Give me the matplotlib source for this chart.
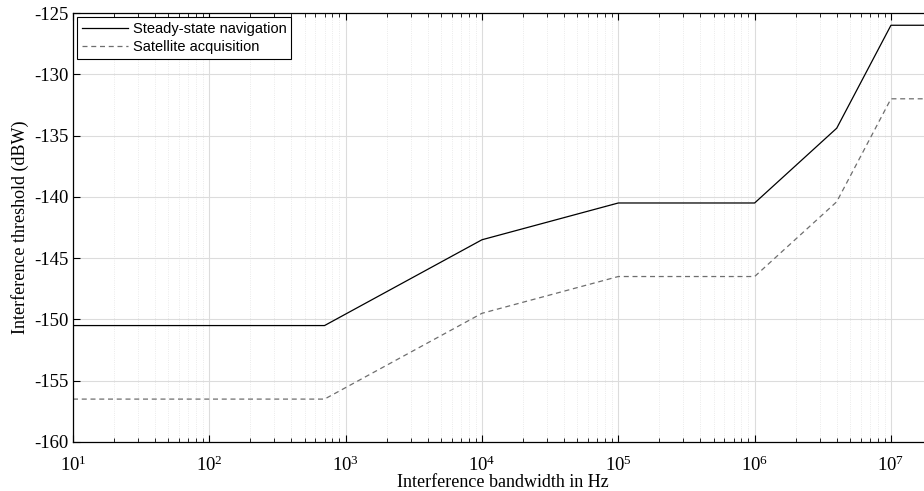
import numpy as np
import matplotlib
matplotlib.use('Agg')
import matplotlib.pyplot as plt
from matplotlib.ticker import LogLocator, NullFormatter

plt.rcParams['axes.unicode_minus'] = False

# bandwidth (Hz) and thresholds (dBW)
bw = [10, 700, 1e4, 1e5, 1e6, 4e6, 1e7, 2e7]
nav = [-150.5, -150.5, -143.5, -140.5, -140.5, -134.4, -126, -126]
acq = [-156.5, -156.5, -149.5, -146.5, -146.5, -140.4, -132, -132]

fig = plt.figure(figsize=(9.24, 4.91), dpi=100)
ax = fig.add_axes([73/924, 49/491, 859/924, 429/491])

ax.semilogx(bw, nav, '-', color='black', lw=0.9, label='Steady-state navigation')
ax.semilogx(bw, acq, '--', color='#6e6e6e', lw=0.9, dashes=(4, 3), label='Satellite acquisition')

ax.set_xlim(10, 2e7)
ax.set_ylim(-160, -125)
ax.set_yticks(np.arange(-160, -124, 5))
ax.xaxis.set_major_locator(LogLocator(base=10, numticks=20))
ax.xaxis.set_minor_locator(LogLocator(base=10, subs=np.arange(2, 10), numticks=20))
ax.xaxis.set_minor_formatter(NullFormatter())

ax.grid(True, which='major', color='#dcdcdc', lw=0.8)
ax.grid(True, which='minor', color='#e4e4e4', lw=0.6, ls=':')
ax.set_axisbelow(True)
ax.tick_params(which='both', direction='in', top=True, right=True)
ax.tick_params(which='major', length=5)
ax.tick_params(which='minor', length=3)
for s in ax.spines.values():
    s.set_linewidth(0.9)

for lab in ax.get_xticklabels() + ax.get_yticklabels():
    lab.set_family('Liberation Serif')
    lab.set_fontsize(13.5)
ax.tick_params(axis='x', pad=10)

ax.set_xlabel('Interference bandwidth in Hz', family='Liberation Serif', fontsize=13)
ax.xaxis.set_label_coords(0.5, -0.075)
ax.set_ylabel('Interference threshold (dBW)', family='Liberation Serif', fontsize=13)
ax.yaxis.set_label_coords(-0.051, 0.5)

leg = ax.legend(loc='upper left', prop={'family': 'Liberation Sans', 'size': 10.5},
                fancybox=False, edgecolor='black', framealpha=1, borderaxespad=0.3,
                handlelength=3.2, borderpad=0.3, labelspacing=0.3, handletextpad=0.3)
leg.get_frame().set_linewidth(0.8)

fig.savefig('out.png', dpi=100)
